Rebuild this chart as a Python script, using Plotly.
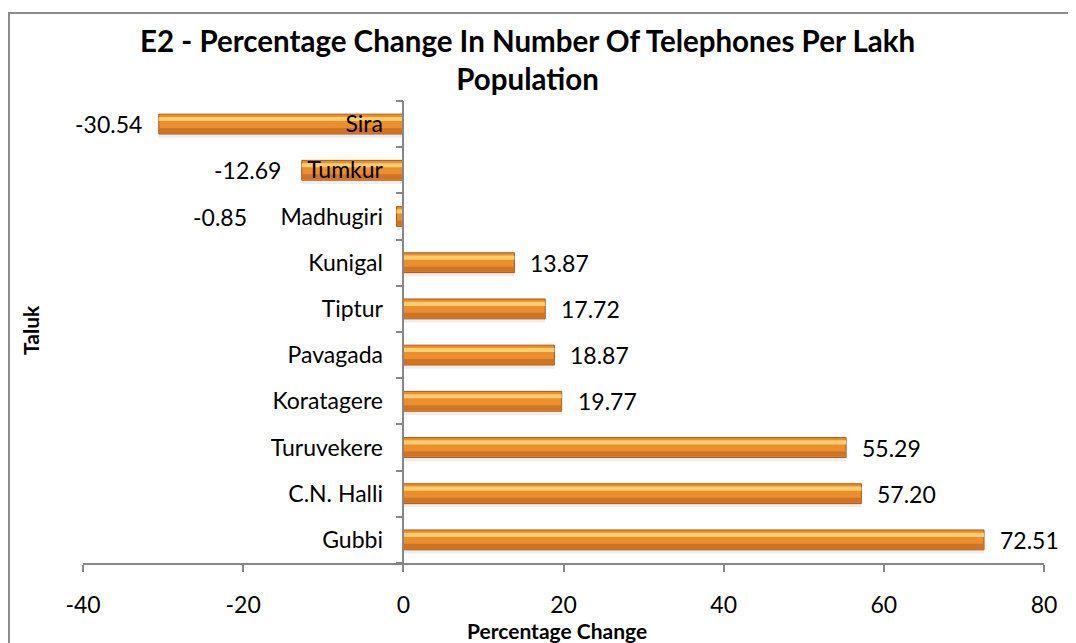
import plotly.graph_objects as go

# ---------------- data ----------------
taluks = ["Gubbi", "C.N. Halli", "Turuvekere", "Koratagere", "Pavagada",
          "Tiptur", "Kunigal", "Madhugiri", "Tumkur", "Sira"]
pct_change = [72.51, 57.20, 55.29, 19.77, 18.87, 17.72, 13.87, -0.85, -12.69, -30.54]
x_ticks = [-40, -20, 0, 20, 40, 60, 80]
x_range = [-40, 80]
title_text = "E2 - Percentage Change In Number Of Telephones Per Lakh<br>Population"
x_title = "Percentage Change"
y_title = "Taluk"

# ---------------- layout constants ----------------
# the page body adds an 8px offset, so the figure is sized to fill the rest of the window
OFF = 8
W, H = 1076 - OFF, 643 - OFF
M_L, M_R, M_T, M_B = 83 - OFF, 32, 101 - OFF, 80
plot_w = W - M_L - M_R
plot_h = H - M_T - M_B
FONT = "Lato, 'Open Sans', sans-serif"
AX = "#878787"
TICK_SIZE = 23
px_per_unit = plot_w / (x_range[1] - x_range[0])
zero_frac = (0 - x_range[0]) / (x_range[1] - x_range[0])


def px_x(page_x):
    return (page_x - OFF - M_L) / plot_w


def px_y(page_y):
    return (H - M_B - (page_y - OFF)) / plot_h


BAR_W = 0.43
half = BAR_W / 2

fig = go.Figure()

# soft shadow under the bar
fig.add_trace(go.Bar(y=taluks, x=pct_change, orientation="h", width=0.08,
                     offset=-half - 0.08, marker=dict(color="rgba(0,0,0,0.07)", line=dict(width=0)),
                     hoverinfo="skip", showlegend=False))
# base bar
fig.add_trace(go.Bar(y=taluks, x=pct_change, orientation="h", width=BAR_W, offset=-half,
                     marker=dict(color="#EA8E2E", line=dict(color="#A65A18", width=1)),
                     showlegend=False))
# darker lower band
fig.add_trace(go.Bar(y=taluks, x=pct_change, orientation="h", width=0.11, offset=-half + 0.02,
                     marker=dict(color="#CE7424", line=dict(width=0)),
                     hoverinfo="skip", showlegend=False))
# light upper highlight
fig.add_trace(go.Bar(y=taluks, x=pct_change, orientation="h", width=0.09, offset=half - 0.15,
                     marker=dict(color="#FBCD6C", line=dict(width=0)),
                     hoverinfo="skip", showlegend=False))

annotations = []
CHAR_W = 11.5
for name, v in zip(taluks, pct_change):
    if v >= 0:
        annotations.append(dict(x=v, y=name, xref="x", yref="y", text=f"{v:.2f}",
                                xanchor="left", yanchor="middle", xshift=14, showarrow=False,
                                font=dict(family=FONT, size=TICK_SIZE, color="#000")))
    else:
        bar_px = -v * px_per_unit
        tick_px = len(name) * CHAR_W
        right_edge = max(bar_px + 15, tick_px + 22 + 29)
        annotations.append(dict(x=v, y=name, xref="x", yref="y", text=f"{v:.2f}",
                                xanchor="right", yanchor="middle", xshift=-(right_edge - bar_px),
                                showarrow=False, font=dict(family=FONT, size=TICK_SIZE, color="#000")))

annotations.append(dict(text=title_text, xref="paper", yref="paper",
                        x=px_x(527), y=px_y(60),
                        xanchor="center", yanchor="middle", showarrow=False,
                        font=dict(family=FONT, size=29.5, color="#000", weight="bold")))
annotations.append(dict(text=x_title, xref="paper", yref="paper",
                        x=px_x(557), y=px_y(630),
                        xanchor="center", yanchor="middle", showarrow=False,
                        font=dict(family=FONT, size=21, color="#000", weight="bold")))
annotations.append(dict(text=y_title, xref="paper", yref="paper",
                        x=px_x(30), y=px_y(330),
                        xanchor="center", yanchor="middle", showarrow=False, textangle=-90,
                        font=dict(family=FONT, size=21, color="#000", weight="bold")))

fig.update_layout(
    width=W, height=H, autosize=False,
    margin=dict(l=M_L, r=M_R, t=M_T, b=M_B),
    paper_bgcolor="white", plot_bgcolor="white",
    barmode="overlay", showlegend=False,
    annotations=annotations,
    shapes=[dict(type="rect", xref="paper", yref="paper",
                 x0=px_x(9), x1=px_x(1090),
                 y0=px_y(660), y1=px_y(13),
                 line=dict(color="#8C8C8C", width=2), fillcolor="rgba(0,0,0,0)", layer="below")],
    xaxis=dict(range=x_range, tickvals=x_ticks, ticktext=[str(t) for t in x_ticks],
               showgrid=False, zeroline=False, showline=True, linecolor=AX, linewidth=1.5,
               ticks="outside", ticklen=7, tickcolor=AX, tickwidth=1.5,
               ticklabelstandoff=14,
               tickfont=dict(family=FONT, size=TICK_SIZE, color="#000")),
    yaxis=dict(type="category", categoryorder="array", categoryarray=taluks,
               range=[-0.5, len(taluks) - 0.5],
               anchor="free", position=zero_frac,
               showgrid=False, zeroline=False, showline=True, linecolor=AX, linewidth=1.5,
               ticks="outside", tickson="boundaries", ticklen=7, tickcolor=AX, tickwidth=1.5,
               ticklabelstandoff=15,
               tickfont=dict(family=FONT, size=TICK_SIZE, color="#000")),
)

fig.write_html("out.html")
